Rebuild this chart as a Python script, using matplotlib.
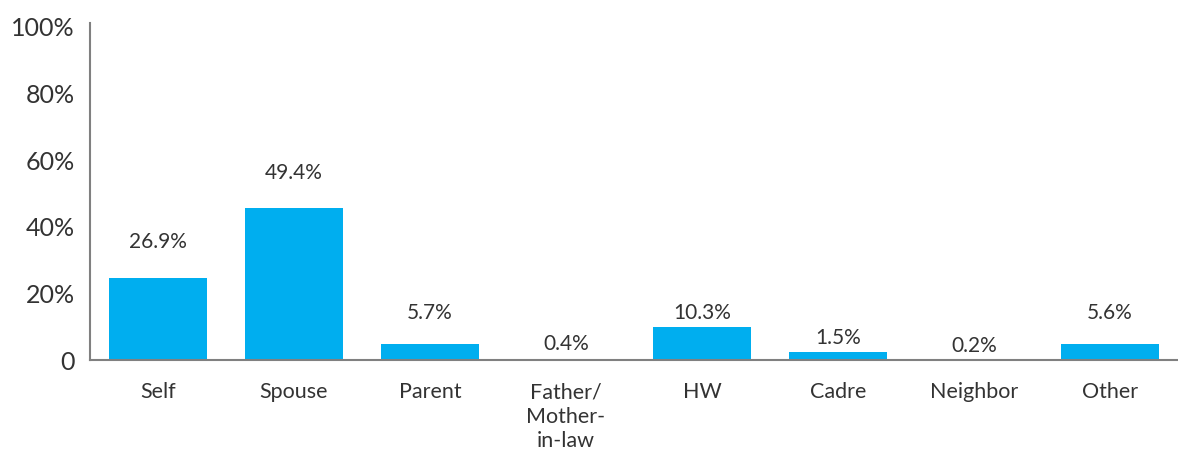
import matplotlib
matplotlib.use("Agg")
import matplotlib.pyplot as plt
import numpy as np

# categories and values
categories = ["Self", "Spouse", "Parent", "Father/\nMother-\nin-law", "HW", "Cadre", "Neighbor", "Other"]
bar_heights = [24.7, 45.6, 4.8, 0.0, 9.9, 2.4, 0.0, 4.8]      # drawn bar heights (%)
value_labels = ["26.9%", "49.4%", "5.7%", "0.4%", "10.3%", "1.5%", "0.2%", "5.6%"]
label_y = [35.4, 56.2, 14.2, 4.8, 14.2, 6.7, 4.2, 14.2]         # where each label sits (%)
yticks = [0, 20, 40, 60, 80, 100]
ytick_labels = ["0", "20%", "40%", "60%", "80%", "100%"]

plt.rcParams["font.family"] = ["Lato", "DejaVu Sans"]
txt = "#333333"
axc = "#808080"

fig = plt.figure(figsize=(11.78, 4.49), dpi=100)
ax = fig.add_axes([90/1178, 1-360/449, 1-90/1178, (360-23)/449])

x = np.arange(len(categories))
ax.bar(x, bar_heights, width=0.725, color="#00AEEF", zorder=2)
for xi, lab, ly in zip(x, value_labels, label_y):
    ax.text(xi, ly, lab, ha="center", va="center", fontsize=15, color=txt)

ax.set_xlim(-0.5, 7.5)
ax.set_ylim(0, 101.2)
ax.set_yticks(yticks)
ax.set_yticklabels(ytick_labels, fontsize=18, color=txt)
ax.set_xticks(x)
ax.set_xticklabels(categories, fontsize=15.5, color=txt, linespacing=1.28, va="top")
ax.tick_params(axis="both", length=0)
ax.tick_params(axis="y", pad=11)
ax.tick_params(axis="x", pad=16)

for s in ["top", "right"]:
    ax.spines[s].set_visible(False)
for s in ["left", "bottom"]:
    ax.spines[s].set_color(axc)
    ax.spines[s].set_linewidth(1.5)

fig.savefig("out.png", dpi=100)
